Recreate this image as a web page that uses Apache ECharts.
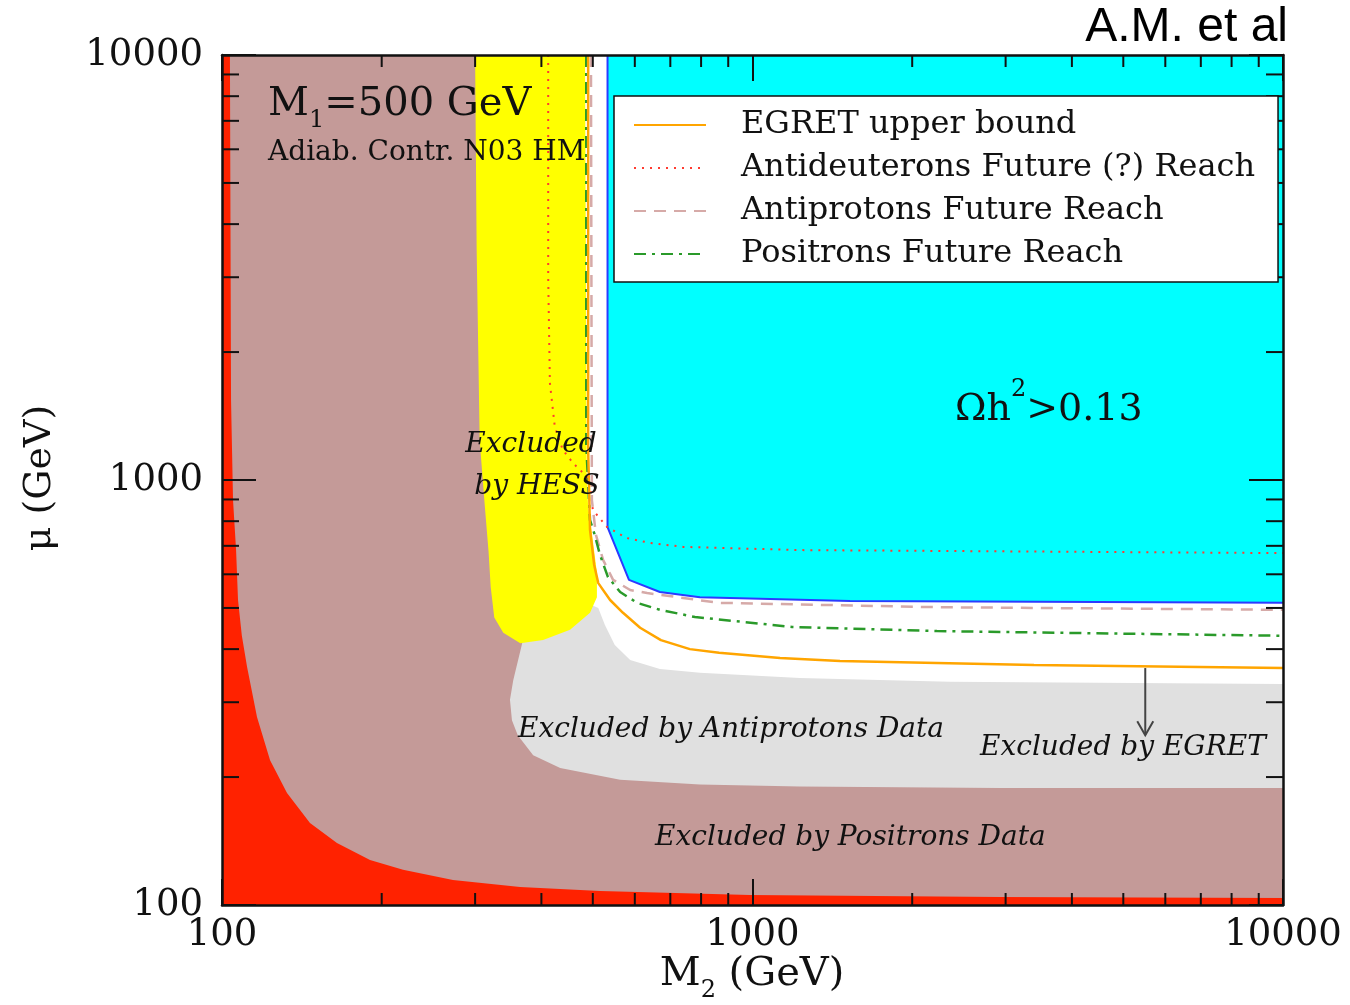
<!DOCTYPE html>
<html>
<head>
<meta charset="utf-8">
<script src="https://cdn.jsdelivr.net/npm/echarts@6/dist/echarts.min.js"></script>
<style>
  html, body { margin: 0; padding: 0; background: #fff; }
  #chart { width: 1350px; height: 1005px; }
</style>
</head>
<body>
<div id="chart"></div>
<script>
// Axes: M2 (x) and mu (y), both in GeV on log scales
const axisRange = [100, 10000];
const minorTicks = [200, 300, 400, 500, 600, 700, 800, 900, 2000, 3000, 4000, 5000, 6000, 7000, 8000, 9000];

// Region boundaries as [M2, mu] pairs, each running from the top edge to the right edge
const positronExclBoundary = [[103.5, 10000], [104, 1540], [104.9, 897], [106.3, 684], [107.2, 522], [109, 430], [111.5, 363], [116.4, 277], [123.2, 219], [132.6, 183.5], [146.5, 156], [164.7, 140], [190.1, 127.6], [219.4, 121], [272.5, 114.5], [364.6, 110.2], [516, 107.9], [989, 105.6], [2929, 104.4], [10000, 103.9]];
const antiprotonExclBoundary = [[368, 10000], [368, 413], [354, 338], [349, 304], [352, 272], [361, 251], [386, 225], [434, 210], [563, 197], [796, 192], [1229, 190], [2929, 188.5], [10000, 188.5]];
const allowedBoundary = [[473, 10000], [473, 522], [512, 500], [527, 456], [550, 409], [588, 377], [669, 359], [796, 352], [1229, 342], [2356, 335], [10000, 331]];
const relicBoundary = [[533, 10000], [533, 775], [585, 582], [669, 545], [796, 530], [1527, 519], [10000, 514]];
// HESS excluded band (closed outline)
const hessRegion = [[300, 10000], [302, 3500], [306, 1240], [313, 864], [318, 680], [321, 560], [326, 475], [339, 437], [365, 413], [403, 420], [453, 444], [494, 487], [509, 530], [509, 604], [498, 750], [490, 864], [487, 1040], [485.6, 2650], [483.5, 10000]];

// Reach curves
const egretUpperBound = [[490, 10000], [490, 1180], [494, 763], [503, 631], [512, 572], [539, 522], [570, 487], [614, 449], [672, 420], [762, 400], [865, 392], [1127, 381], [1462, 375], [3394, 367], [10000, 361]];
const antideuteronReach = [[412, 10000], [412, 3000], [415, 1692], [424, 1333], [439, 1177], [459, 1096], [488, 1016], [494, 984], [500, 850], [532, 775], [580, 730], [641, 711], [740, 696], [1229, 684], [10000, 673]];
const antiprotonReach = [[496, 10000], [498, 897], [507, 742], [523, 648], [546, 582], [588, 551], [633, 542], [865, 514], [2227, 502], [10000, 495]];
const positronReach = [[486, 10000], [486, 1200], [494, 805], [503, 750], [516, 666], [534, 591], [563, 545], [606, 514], [669, 495], [779, 476], [1187, 451], [2227, 441], [10000, 430]];

// EGRET arrow: [M2, mu from, mu to]
const egretArrow = [[5500, 361, 251]];

const INK = '#111';
const SERIF = 'DejaVu Serif';

// filled region above/right of a boundary curve
function regionAbove(name, boundary, fill, z) {
  const pts = boundary.concat([[axisRange[1], axisRange[1]]]);
  return closedRegion(name, pts, fill, z);
}
function closedRegion(name, pts, fill, z) {
  return {
    type: 'custom', name, coordinateSystem: 'cartesian2d', clip: true, silent: true, z,
    data: [pts[0]],
    renderItem: (params, api) => ({
      type: 'polygon',
      shape: { points: pts.map(p => api.coord(p)) },
      style: { fill: fill, stroke: null }
    })
  };
}
function curve(name, pts, color, width, dash, z) {
  return {
    type: 'line', name, data: pts, symbol: 'none', showSymbol: false, smooth: false,
    clip: true, z, silent: true,
    lineStyle: { color, width, type: dash, cap: 'butt' },
    itemStyle: { color }
  };
}

// minor ticks drawn inside the frame on all four sides
const xTickLen = 12, yTickLen = 17;
const xMinorTickSeries = {
  type: 'custom', coordinateSystem: 'cartesian2d', clip: false, silent: true, z: 20,
  data: minorTicks.map(v => [v, axisRange[0]]),
  renderItem: (params, api) => {
    const v = api.value(0);
    const b = api.coord([v, axisRange[0]]);
    const t = api.coord([v, axisRange[1]]);
    return { type: 'group', children: [
      { type: 'line', shape: { x1: b[0], y1: b[1], x2: b[0], y2: b[1] - xTickLen }, style: { stroke: INK, lineWidth: 2 } },
      { type: 'line', shape: { x1: t[0], y1: t[1], x2: t[0], y2: t[1] + xTickLen }, style: { stroke: INK, lineWidth: 2 } }
    ] };
  }
};
const yMinorTickSeries = {
  type: 'custom', coordinateSystem: 'cartesian2d', clip: false, silent: true, z: 20,
  data: minorTicks.map(v => [axisRange[0], v]),
  renderItem: (params, api) => {
    const v = api.value(1);
    const l = api.coord([axisRange[0], v]);
    const r = api.coord([axisRange[1], v]);
    return { type: 'group', children: [
      { type: 'line', shape: { x1: l[0], y1: l[1], x2: l[0] + yTickLen, y2: l[1] }, style: { stroke: INK, lineWidth: 2 } },
      { type: 'line', shape: { x1: r[0], y1: r[1], x2: r[0] - yTickLen, y2: r[1] }, style: { stroke: INK, lineWidth: 2 } }
    ] };
  }
};
const arrowSeries = {
  type: 'custom', coordinateSystem: 'cartesian2d', clip: true, silent: true, z: 15,
  data: egretArrow,
  renderItem: (params, api) => {
    const a = api.coord([api.value(0), api.value(1)]);
    const b = api.coord([api.value(0), api.value(2)]);
    return { type: 'group', children: [
      { type: 'line', shape: { x1: a[0], y1: a[1], x2: b[0], y2: b[1] }, style: { stroke: '#444', lineWidth: 2 } },
      { type: 'polyline', shape: { points: [[b[0] - 8, b[1] - 14], [b[0], b[1]], [b[0] + 8, b[1] - 14]] }, style: { stroke: '#444', lineWidth: 2, fill: null } }
    ] };
  }
};

function logAxis(position, showLabel, margin, majorLen) {
  return {
    type: 'log', logBase: 10, min: axisRange[0], max: axisRange[1], position, z: 10,
    axisLine: { show: true, onZero: false, lineStyle: { color: INK, width: 2.5 } },
    axisTick: { show: true, inside: true, length: majorLen, lineStyle: { color: INK, width: 2 } },
    minorTick: { show: false },
    splitLine: { show: false },
    axisLabel: {
      show: showLabel, margin, color: INK, fontFamily: SERIF, fontSize: 37,
      formatter: v => String(Math.round(v))
    }
  };
}

const chart = echarts.init(document.getElementById('chart'), null, { renderer: 'canvas' });
chart.setOption({
  animation: false,
  backgroundColor: '#fff',
  grid: { left: 222, right: 67, top: 55, bottom: 100, show: true, backgroundColor: '#ff2200', borderWidth: 0 },
  xAxis: [logAxis('bottom', true, 12, 26), logAxis('top', false, 8, 26)],
  yAxis: [logAxis('left', true, 19, 34), logAxis('right', false, 8, 34)],
  legend: {
    orient: 'vertical', left: 614, top: 96, z: 50,
    padding: [13, 23, 12, 19], itemGap: 11, itemWidth: 72, itemHeight: 16,
    backgroundColor: '#fff', borderColor: INK, borderWidth: 1.5,
    selectedMode: false,
    itemStyle: { opacity: 0 },
    textStyle: { fontFamily: SERIF, fontSize: 32, color: INK, lineHeight: 30, padding: [0, 0, 0, 30] },
    data: ['EGRET upper bound', 'Antideuterons Future (?) Reach', 'Antiprotons Future Reach', 'Positrons Future Reach']
  },
  series: [
    regionAbove('Positrons excluded', positronExclBoundary, '#c49a98', 2),
    regionAbove('Antiprotons excluded', antiprotonExclBoundary, '#e0e0e0', 3),
    regionAbove('Allowed', allowedBoundary, '#ffffff', 4),
    regionAbove('Relic density', relicBoundary, '#00ffff', 5),
    closedRegion('HESS excluded', hessRegion, '#ffff00', 6),
    curve('Relic boundary', relicBoundary, '#2b3bff', 2, 'solid', 7),
    curve('Antideuterons Future (?) Reach', antideuteronReach, '#ff3b30', 2, [2, 6], 8),
    curve('Antiprotons Future Reach', antiprotonReach, '#d6aaa8', 2.5, [12, 8], 8),
    curve('Positrons Future Reach', positronReach, '#2a9a2a', 2.5, [12, 6, 3, 6], 8),
    curve('EGRET upper bound', egretUpperBound, '#ffa500', 2.5, 'solid', 9),
    arrowSeries,
    xMinorTickSeries,
    yMinorTickSeries
  ],
  graphic: [
    { type: 'text', x: 1288, y: 28, z: 100, style: { text: 'A.M. et al', fontFamily: 'Liberation Sans', fontSize: 48, fill: '#000', align: 'right', verticalAlign: 'middle' } },
    { type: 'text', x: 268, y: 105, z: 100, style: {
      text: '{a|M}{s|1}{a|=500 GeV}', align: 'left', verticalAlign: 'middle',
      rich: { a: { fontFamily: SERIF, fontSize: 40, lineHeight: 56, fill: INK }, s: { fontFamily: SERIF, fontSize: 24, lineHeight: 24, verticalAlign: 'bottom', fill: INK } }
    } },
    { type: 'text', x: 268, y: 153, z: 100, style: { text: 'Adiab. Contr. N03 HM', fontFamily: SERIF, fontSize: 28, fill: INK, align: 'left', verticalAlign: 'middle' } },
    { type: 'text', x: 531, y: 445, z: 100, style: { text: 'Excluded', fontFamily: SERIF, fontStyle: 'italic', fontSize: 28, fill: INK, align: 'center', verticalAlign: 'middle' } },
    { type: 'text', x: 537, y: 487, z: 100, style: { text: 'by HESS', fontFamily: SERIF, fontStyle: 'italic', fontSize: 28, fill: INK, align: 'center', verticalAlign: 'middle' } },
    { type: 'text', x: 955, y: 410, z: 100, style: {
      text: '{a|Ωh}{s|2}{a|>0.13}', align: 'left', verticalAlign: 'middle',
      rich: { a: { fontFamily: SERIF, fontSize: 38, lineHeight: 64, fill: INK }, s: { fontFamily: SERIF, fontSize: 24, lineHeight: 22, verticalAlign: 'top', fill: INK } }
    } },
    { type: 'text', x: 518, y: 730, z: 100, style: { text: 'Excluded by Antiprotons Data', fontFamily: SERIF, fontStyle: 'italic', fontSize: 28, fill: INK, align: 'left', verticalAlign: 'middle' } },
    { type: 'text', x: 980, y: 748, z: 100, style: { text: 'Excluded by EGRET', fontFamily: SERIF, fontStyle: 'italic', fontSize: 28, fill: INK, align: 'left', verticalAlign: 'middle' } },
    { type: 'text', x: 655, y: 838, z: 100, style: { text: 'Excluded by Positrons Data', fontFamily: SERIF, fontStyle: 'italic', fontSize: 28, fill: INK, align: 'left', verticalAlign: 'middle' } },
    { type: 'text', x: 752, y: 975, z: 100, style: {
      text: '{a|M}{s|2}{a| (GeV)}', align: 'center', verticalAlign: 'middle',
      rich: { a: { fontFamily: SERIF, fontSize: 40, lineHeight: 56, fill: INK }, s: { fontFamily: SERIF, fontSize: 24, lineHeight: 24, verticalAlign: 'bottom', fill: INK } }
    } },
    { type: 'text', x: 40, y: 478, z: 100, rotation: Math.PI / 2, style: { text: 'μ (GeV)', fontFamily: SERIF, fontSize: 38, fill: INK, align: 'center', verticalAlign: 'middle' } }
  ]
});
</script>
</body>
</html>
